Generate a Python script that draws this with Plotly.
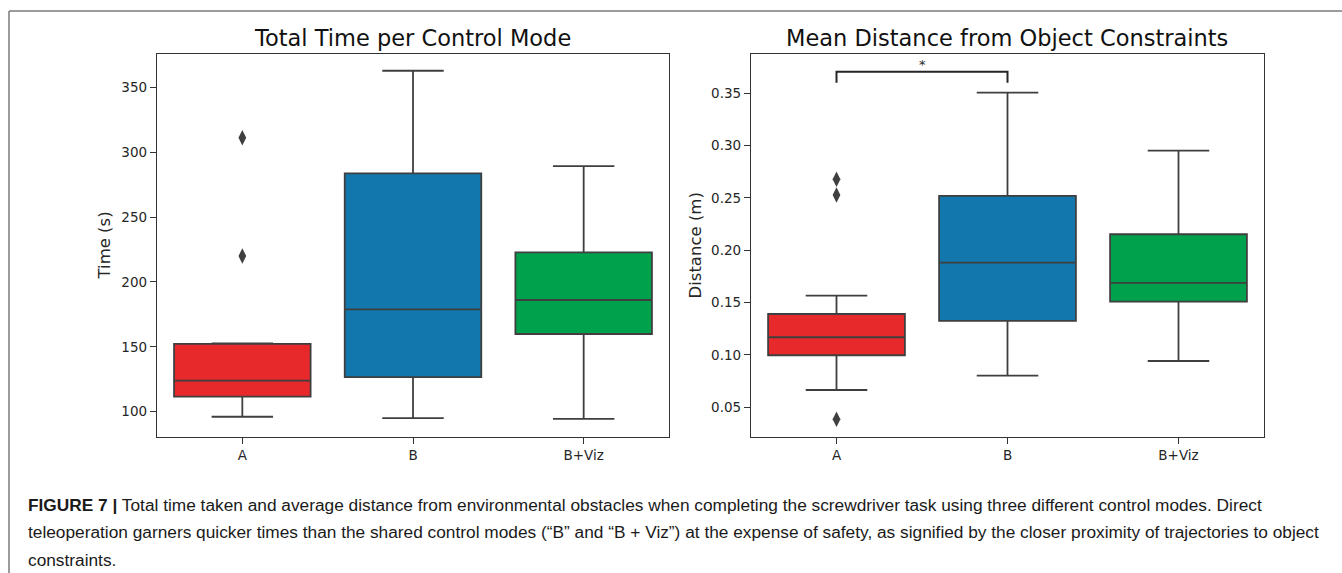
import plotly.graph_objects as go

# ---------------- data ----------------
categories = ["A", "B", "B+Viz"]
colors = ["#e8292c", "#1177ad", "#00a14c"]

time_q1 = [111.6, 126.7, 159.9]
time_median = [123.9, 178.9, 186.1]
time_q3 = [152.2, 283.7, 222.8]
time_low = [96.1, 95.1, 94.4]
time_high = [152.7, 362.8, 289.3]
time_outlier_x = ["A", "A"]
time_outlier_y = [311.2, 220.0]

dist_q1 = [0.0997, 0.1325, 0.1509]
dist_median = [0.1169, 0.1882, 0.1688]
dist_q3 = [0.1391, 0.2519, 0.2153]
dist_low = [0.0665, 0.0802, 0.0942]
dist_high = [0.1566, 0.3506, 0.2952]
dist_outlier_x = ["A", "A", "A"]
dist_outlier_y = [0.2678, 0.2528, 0.0385]

time_ticks = [100, 150, 200, 250, 300, 350]
dist_ticks = [0.05, 0.10, 0.15, 0.20, 0.25, 0.30, 0.35]

sig_pair = ["A", "B"]
sig_bottom = 0.3601
sig_top = 0.3706
sig_label = "*"

titles = ["Total Time per Control Mode", "Mean Distance from Object Constraints"]
ytitles = ["Time (s)", "Distance (m)"]
caption_lines = [
    "<b>FIGURE 7 |</b> Total time taken and average distance from environmental obstacles when completing the screwdriver task using three different control modes. Direct",
    "teleoperation garners quicker times than the shared control modes (\u201cB\u201d and \u201cB + Viz\u201d) at the expense of safety, as signified by the closer proximity of trajectories to object",
    "constraints.",
]

# ---------------- figure ----------------
W, H = 1342, 573
LINE = "#3f3f3f"
FONT = "DejaVu Sans"

fig = go.Figure()

def add_boxes(xaxis, yaxis, q1, med, q3, lo, hi):
    for i, c in enumerate(categories):
        fig.add_trace(go.Box(
            x=[c], q1=[q1[i]], median=[med[i]], q3=[q3[i]],
            lowerfence=[lo[i]], upperfence=[hi[i]],
            width=0.8, whiskerwidth=0.45,
            fillcolor=colors[i], line=dict(color=LINE, width=1.8),
            boxpoints=False, showlegend=False, hoverinfo="skip",
            xaxis=xaxis, yaxis=yaxis,
        ))

add_boxes("x", "y", time_q1, time_median, time_q3, time_low, time_high)
add_boxes("x2", "y2", dist_q1, dist_median, dist_q3, dist_low, dist_high)

marker = dict(symbol="diamond-tall", size=11, color=LINE, line=dict(width=0))
fig.add_trace(go.Scatter(x=time_outlier_x, y=time_outlier_y, mode="markers",
                         marker=marker, showlegend=False, hoverinfo="skip",
                         xaxis="x", yaxis="y"))
fig.add_trace(go.Scatter(x=dist_outlier_x, y=dist_outlier_y, mode="markers",
                         marker=marker, showlegend=False, hoverinfo="skip",
                         xaxis="x2", yaxis="y2"))

# significance bracket
fig.add_trace(go.Scatter(
    x=[sig_pair[0], sig_pair[0], sig_pair[1], sig_pair[1]],
    y=[sig_bottom, sig_top, sig_top, sig_bottom],
    mode="lines", line=dict(color="#262626", width=2),
    showlegend=False, hoverinfo="skip", xaxis="x2", yaxis="y2"))

ydom = [1 - 437 / H, 1 - 54 / H]
xdom1 = [157 / W, 669 / W]
xdom2 = [751 / W, 1264 / W]

axis_common = dict(
    showline=True, linecolor="#333333", linewidth=1.3, mirror=True,
    ticks="outside", ticklen=6, tickwidth=1.2, tickcolor="#333333",
    showgrid=False, zeroline=False,
    tickfont=dict(family=FONT, size=13.5, color="#262626"),
)

fig.update_layout(
    width=W, height=H,
    margin=dict(l=0, r=0, t=0, b=0),
    paper_bgcolor="white", plot_bgcolor="white",
    boxmode="overlay",
    xaxis=dict(domain=xdom1, anchor="y", type="category",
               categoryorder="array", categoryarray=categories,
               range=[-0.5, 2.5], **axis_common),
    yaxis=dict(domain=ydom, anchor="x", range=[80.5, 375.7],
               tickvals=time_ticks, **axis_common),
    xaxis2=dict(domain=xdom2, anchor="y2", type="category",
                categoryorder="array", categoryarray=categories,
                range=[-0.5, 2.5], **axis_common),
    yaxis2=dict(domain=ydom, anchor="x2", range=[0.0216, 0.3875],
                tickvals=dist_ticks, tickformat=".2f", **axis_common),
)

ann = []
# titles
for t, dom in zip(titles, [xdom1, xdom2]):
    ann.append(dict(text=t, xref="paper", yref="paper",
                    x=(dom[0] + dom[1]) / 2, y=1 - 38 / H,
                    xanchor="center", yanchor="middle", showarrow=False,
                    font=dict(family=FONT, size=22.5, color="#111111")))
# y-axis titles
for t, xc in zip(ytitles, [104, 695]):
    ann.append(dict(text=t, xref="paper", yref="paper",
                    x=xc / W, y=(ydom[0] + ydom[1]) / 2, textangle=-90,
                    xanchor="center", yanchor="middle", showarrow=False,
                    font=dict(family=FONT, size=16.5, color="#262626")))
# significance star
ann.append(dict(text=sig_label, xref="x2", yref="y2", x=0.5, y=sig_top,
                xanchor="center", yanchor="bottom", showarrow=False, yshift=-2,
                font=dict(family=FONT, size=13, color="#262626")))
# caption
for line, yc in zip(caption_lines, [505, 532, 560]):
    ann.append(dict(text=line, xref="paper", yref="paper",
                    x=26 / W, y=1 - yc / H, xanchor="left", yanchor="middle",
                    showarrow=False,
                    font=dict(family="Liberation Sans Narrow, Liberation Sans, sans-serif",
                              size=17.3, color="#1a1a1a")))
fig.update_layout(annotations=ann)

# outer frame lines
fig.update_layout(shapes=[
    dict(type="line", xref="paper", yref="paper", x0=9 / W, x1=1, y0=1 - 11 / H, y1=1 - 11 / H,
         line=dict(color="#7a7a7a", width=1.5)),
    dict(type="line", xref="paper", yref="paper", x0=9 / W, x1=9 / W, y0=1 - 11 / H, y1=0,
         line=dict(color="#7a7a7a", width=1.5)),
])

fig.write_html("out.html", config={"displayModeBar": False},
               post_script="document.body.style.margin='0';")
